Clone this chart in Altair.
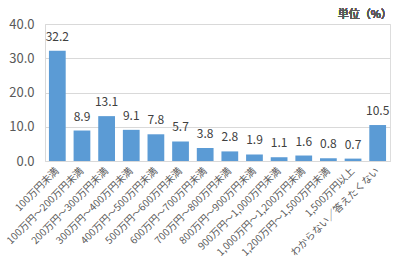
import altair as alt
import pandas as pd

categories = [
    "100万円未満",
    "100万円～200万円未満",
    "200万円～300万円未満",
    "300万円～400万円未満",
    "400万円～500万円未満",
    "500万円～600万円未満",
    "600万円～700万円未満",
    "700万円～800万円未満",
    "800万円～900万円未満",
    "900万円～1,000万円未満",
    "1,000万円～1,200万円未満",
    "1,200万円～1,500万円未満",
    "1,500万円以上",
    "わからない／答えたくない",
]
values = [32.2, 8.9, 13.1, 9.1, 7.8, 5.7, 3.8, 2.8, 1.9, 1.1, 1.6, 0.8, 0.7, 10.5]
y_ticks = [0, 10, 20, 30, 40]

df = pd.DataFrame({"cat": categories, "val": values})
FONT = "Noto Sans CJK JP"

x = alt.X("cat:N", sort=categories, title=None,
          scale=alt.Scale(paddingInner=0.32, paddingOuter=0.16),
          axis=alt.Axis(labelAngle=-45, labelAlign="right", labelBaseline="middle",
                        labelFontSize=10, labelColor="#595959", ticks=False,
                        domainColor="#D9D9D9", labelPadding=8, labelLimit=300,
                        labelFont=FONT, labelOverlap=False))
y = alt.Y("val:Q", title=None,
          scale=alt.Scale(domain=[0, 40], nice=False),
          axis=alt.Axis(values=y_ticks, format=".1f", ticks=False, labelOverlap=False,
                        tickCount=5, labelFontSize=13, labelColor="#595959",
                        gridColor="#D9D9D9", domainColor="#D9D9D9", labelPadding=11,
                        labelFont=FONT, labelFlush=False))

base = alt.Chart(df).encode(x=x, y=y)
bars = base.mark_bar(color="#5B9BD5")
text = base.mark_text(dy=-14, fontSize=12, color="#404040", font=FONT).encode(
    text=alt.Text("val:Q", format=".1f"))
unit = alt.Chart(df).mark_text(align="right", baseline="middle", fontSize=11,
                               color="#595959", font=FONT, fontWeight="normal").encode(
    x=alt.value(347), y=alt.value(-9), text=alt.value("単位（%）"))

chart = (bars + text + unit).properties(
    width=345, height=137,
    autosize=alt.AutoSizeParams(type="none"),
    padding={"left": 45, "top": 24, "right": 5, "bottom": 115},
).configure_view(stroke="#D9D9D9").configure(background="white")

chart.save("out.html", embed_options={"renderer": "svg", "actions": False})
